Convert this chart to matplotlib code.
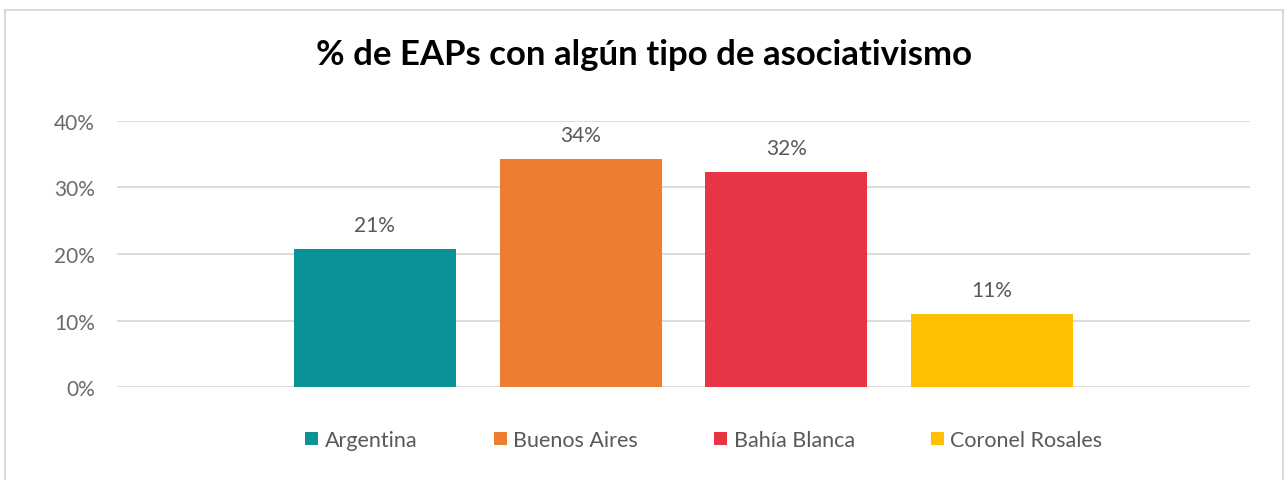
import numpy as np
import matplotlib.pyplot as plt
from matplotlib.patches import Rectangle

regiones = ['Argentina', 'Buenos Aires', 'Bahía Blanca', 'Coronel Rosales']
valores = [0.208, 0.343, 0.324, 0.110]
etiquetas = ['21%', '34%', '32%', '11%']
colores = ['#0A9396', '#ED7D31', '#E83546', '#FFC000']
yticks = [0, 0.1, 0.2, 0.3, 0.4]

plt.rcParams['font.family'] = ['Lato', 'DejaVu Sans']

fig = plt.figure(figsize=(12.88, 4.81), dpi=100)
ax = fig.add_axes([0.0908, 0.1933, 0.8797, 0.5531])

x = np.arange(len(regiones))
bars = ax.bar(x, valores, width=0.788, color=colores, label=regiones, zorder=3)
for xi, v, t in zip(x, valores, etiquetas):
    ax.text(xi, v + 0.021, t, ha='center', va='bottom', fontsize=15,
            color='#595959')

ax.set_xlim(-1.254, 4.254)
ax.set_ylim(0, 0.4)
ax.set_yticks(yticks)
ax.set_yticklabels([f'{int(round(t*100))}%' for t in yticks])
ax.set_xticks([])
ax.yaxis.grid(True, color='#D9D9D9', linewidth=1.3, zorder=0)
ax.tick_params(axis='y', length=0, pad=16, labelsize=15, labelcolor='#6a6a6a')
for s in ax.spines.values():
    s.set_visible(False)

fig.text(0.5, 0.886, '% de EAPs con algún tipo de asociativismo', ha='center', va='center',
         fontsize=25, fontweight='bold', color='black')

leg = ax.legend(handles=bars, labels=regiones, loc='center', bbox_to_anchor=(0.518, -0.199),
                ncol=4, frameon=False, fontsize=15.5, handlelength=0.6, handleheight=0.6,
                handletextpad=0.3, columnspacing=3.55, labelcolor='#595959')

fig.patches.append(Rectangle((5/1288, -0.1), (1283-5)/1288, (481-11)/481 + 0.1,
                             transform=fig.transFigure, fill=False,
                             edgecolor='#D9D9D9', linewidth=1.5))

fig.savefig('out.png', dpi=100)
